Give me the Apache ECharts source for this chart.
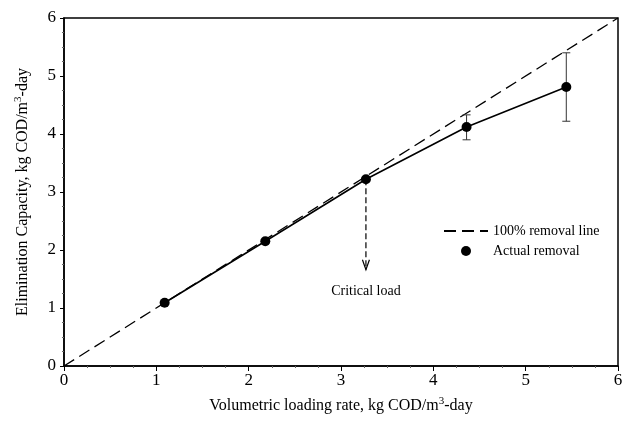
<!DOCTYPE html>
<html><head><meta charset="utf-8">
<script src="https://cdn.jsdelivr.net/npm/echarts@6/dist/echarts.min.js"></script>
<style>html,body{margin:0;padding:0;background:#fff}#c{width:628px;height:421px}</style>
</head><body><div id="c"></div>
<script>
const loadingRate = [1.09, 2.18, 3.27, 4.36, 5.44];
const elimination = [1.09, 2.15, 3.22, 4.12, 4.81];
const errLow = [null, null, null, 3.90, 4.22];
const errHigh = [null, null, null, 4.33, 5.40];
const idealLine = [[0, 0], [6, 6]];
const arrowFrom = [3.27, 3.22];
const arrowTo = [3.27, 1.66];
const noteText = 'Critical load';
const notePos = [3.27, 1.28];
const xTicks = [0, 1, 2, 3, 4, 5, 6];
const yTicks = [0, 1, 2, 3, 4, 5, 6];

const FONT = 'Liberation Serif';
const chart = echarts.init(document.getElementById('c'));
const errData = loadingRate.map((x, i) => errLow[i] == null ? null : [x, errLow[i], errHigh[i]]).filter(d => d);

chart.setOption({
  animation: false,
  backgroundColor: '#fff',
  textStyle: { fontFamily: FONT, color: '#000' },
  grid: { left: 64, right: 10, top: 18, bottom: 55, show: true, borderColor: '#000', borderWidth: 1.5 },
  legend: {
    orient: 'vertical', left: 438, top: 219, itemGap: 6, itemWidth: 44, itemHeight: 10,
    textStyle: { fontFamily: FONT, fontSize: 14, color: '#000' },
    data: [{ name: '100% removal line', itemStyle: { opacity: 0 } }, { name: 'Actual removal', icon: 'circle' }]
  },
  xAxis: {
    type: 'value', min: 0, max: 6, interval: 1,
    name: 'Volumetric loading rate, kg COD/m{sup|3}-day', nameLocation: 'middle', nameGap: 30,
    nameTextStyle: { fontFamily: FONT, fontSize: 16, color: '#000', rich: { sup: { fontSize: 11, verticalAlign: 'top', padding: [0, 0, 8, 0], fontFamily: FONT } } },
    axisLine: { lineStyle: { color: '#000', width: 1.5 } },
    axisTick: { show: true, length: 5, lineStyle: { color: '#000' } },
    minorTick: { show: true, splitNumber: 4, length: 2, lineStyle: { color: '#666' } },
    axisLabel: { fontFamily: FONT, fontSize: 17, color: '#000', margin: 6, formatter: v => xTicks.includes(v) ? String(v) : '' },
    splitLine: { show: false }
  },
  yAxis: {
    type: 'value', min: 0, max: 6, interval: 1,
    name: 'Elimination Capacity, kg COD/m{sup|3}-day', nameLocation: 'middle', nameGap: 32,
    nameTextStyle: { fontFamily: FONT, fontSize: 16, color: '#000', rich: { sup: { fontSize: 11, verticalAlign: 'top', padding: [0, 0, 8, 0], fontFamily: FONT } } },
    axisLine: { lineStyle: { color: '#000', width: 1.5 } },
    axisTick: { show: true, length: 4, lineStyle: { color: '#000' } },
    minorTick: { show: true, splitNumber: 4, length: 2, lineStyle: { color: '#666' } },
    axisLabel: { fontFamily: FONT, fontSize: 17, color: '#000', margin: 8, formatter: v => yTicks.includes(v) ? String(v) : '' },
    splitLine: { show: false }
  },
  series: [
    {
      name: '100% removal line', type: 'line', data: idealLine, showSymbol: false, symbol: 'none',
      lineStyle: { color: '#000', width: 1.3, type: [12, 6] }, itemStyle: { color: '#000' }, z: 2
    },
    {
      name: 'Actual removal', type: 'line', data: loadingRate.map((x, i) => [x, elimination[i]]),
      symbol: 'circle', symbolSize: 10, lineStyle: { color: '#000', width: 1.6 }, itemStyle: { color: '#000' }, z: 4
    },
    {
      name: 'err', type: 'custom', data: errData, z: 3,
      renderItem: (params, api) => {
        const x = api.value(0);
        const lo = api.coord([x, api.value(1)]);
        const hi = api.coord([x, api.value(2)]);
        const w = 4;
        return { type: 'group', children: [
          { type: 'line', shape: { x1: lo[0], y1: lo[1], x2: hi[0], y2: hi[1] }, style: { stroke: '#333', lineWidth: 1 } },
          { type: 'line', shape: { x1: lo[0] - w, y1: lo[1], x2: lo[0] + w, y2: lo[1] }, style: { stroke: '#333', lineWidth: 1 } },
          { type: 'line', shape: { x1: hi[0] - w, y1: hi[1], x2: hi[0] + w, y2: hi[1] }, style: { stroke: '#333', lineWidth: 1 } }
        ]};
      }
    },
    {
      name: 'arrow', type: 'custom', data: [[arrowFrom[0], arrowFrom[1], arrowTo[1]]], z: 3,
      renderItem: (params, api) => {
        const a = api.coord([api.value(0), api.value(1)]);
        const b = api.coord([api.value(0), api.value(2)]);
        return { type: 'group', children: [
          { type: 'line', shape: { x1: a[0], y1: a[1], x2: b[0], y2: b[1] }, style: { stroke: '#000', lineWidth: 1.2, lineDash: [6, 3] } },
          { type: 'polyline', shape: { points: [[b[0] - 3.5, b[1] - 10], [b[0], b[1]], [b[0] + 3.5, b[1] - 10]] }, style: { stroke: '#000', lineWidth: 1.2, fill: null } }
        ]};
      }
    },
    {
      name: 'note', type: 'scatter', data: [notePos], symbolSize: 0, z: 5, itemStyle: { opacity: 1 },
      label: { show: true, position: 'inside', formatter: noteText, fontFamily: FONT, fontSize: 14, color: '#000', opacity: 1 },
      silent: true
    }
  ]
});
</script></body></html>
